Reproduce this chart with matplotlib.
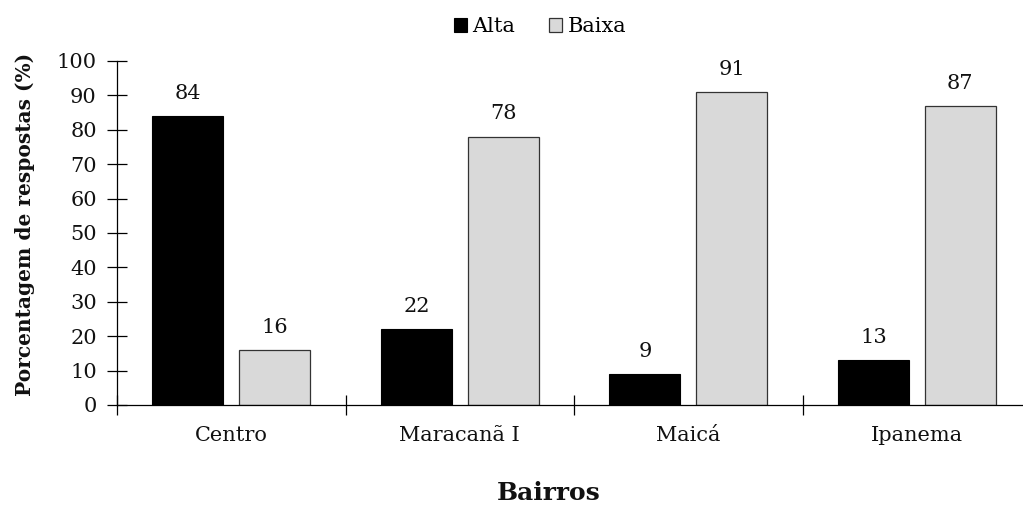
import matplotlib
matplotlib.use("Agg")
import matplotlib.pyplot as plt
import numpy as np

bairros = ["Centro", "Maracanã I", "Maicá", "Ipanema"]
alta = [84, 22, 9, 13]
baixa = [16, 78, 91, 87]
series_names = ["Alta", "Baixa"]
yticks = list(range(0, 101, 10))

plt.rcParams["font.family"] = ["DejaVu Serif"]
FS = 15

W, H = 1023, 507
fig = plt.figure(figsize=(W / 100, H / 100), dpi=100)
left_px, right_px, top_px, bot_px = 117, 1031, 61, 405
ax = fig.add_axes([left_px / W, 1 - bot_px / H, (right_px - left_px) / W, (bot_px - top_px) / H])

x = np.arange(len(bairros))
w = 0.312
off = 0.19
b1 = ax.bar(x - off, alta, w, color="black", edgecolor="black", linewidth=0.8, label=series_names[0])
b2 = ax.bar(x + off, baixa, w, color="#d9d9d9", edgecolor="#333333", linewidth=0.9, label=series_names[1])

for bars, vals in ((b1, alta), (b2, baixa)):
    for r, v in zip(bars, vals):
        ax.text(r.get_x() + r.get_width() / 2, v + 5.0, str(v), ha="center", va="baseline",
                fontsize=FS, color="#111111")

ax.set_xlim(-0.5, len(bairros) - 0.5)
ax.set_ylim(0, 100)
ax.set_yticks(yticks)
ax.set_xticks(x)
ax.set_xticklabels(bairros, fontsize=FS, color="#111111")
ax.tick_params(axis="x", length=0, pad=15)
ax.set_xticks(np.arange(len(bairros) + 1) - 0.5, minor=True)
ax.tick_params(axis="x", which="minor", direction="inout", length=14, width=0.9)
ax.tick_params(axis="y", direction="inout", length=15, width=0.9, labelsize=FS, pad=7,
               labelcolor="#111111")

for s in ("top", "right"):
    ax.spines[s].set_visible(False)
for s in ("left", "bottom"):
    ax.spines[s].set_linewidth(0.9)

fig.text(25 / W, 1 - 224 / H, "Porcentagem de respostas (%)", rotation=90, ha="center", va="center",
         fontsize=14.5, fontweight="bold", color="#111111")
fig.text(549 / W, 1 - 493 / H, "Bairros", ha="center", va="center",
         fontsize=18, fontweight="bold", color="#111111")

fig.legend(handles=[b1, b2], labels=series_names, loc="center", bbox_to_anchor=(540 / W, 1 - 27 / H),
           ncol=2, frameon=False, fontsize=FS, handlelength=0.65, handleheight=0.65,
           handletextpad=0.25, columnspacing=1.6, borderpad=0)

fig.savefig("out.png", dpi=100)
